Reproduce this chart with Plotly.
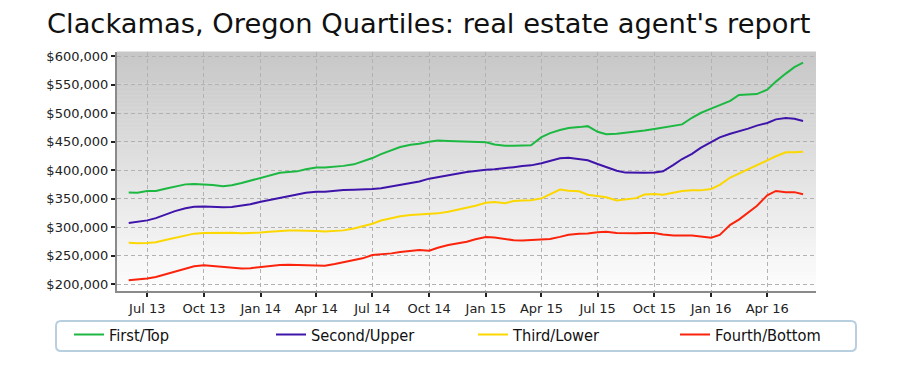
import plotly.graph_objects as go

dates = [
    "2013-06-01", "2013-06-15", "2013-07-01", "2013-07-15", "2013-08-01", "2013-08-15",
    "2013-09-01", "2013-09-15", "2013-10-01", "2013-10-15", "2013-11-01", "2013-11-15",
    "2013-12-01", "2013-12-15", "2014-01-01", "2014-01-15", "2014-02-01", "2014-02-15",
    "2014-03-01", "2014-03-15", "2014-04-01", "2014-04-15", "2014-05-01", "2014-05-15",
    "2014-06-01", "2014-06-15", "2014-07-01", "2014-07-15", "2014-08-01", "2014-08-15",
    "2014-09-01", "2014-09-15", "2014-10-01", "2014-10-15", "2014-11-01", "2014-11-15",
    "2014-12-01", "2014-12-15", "2015-01-01", "2015-01-15", "2015-02-01", "2015-02-15",
    "2015-03-01", "2015-03-15", "2015-04-01", "2015-04-15", "2015-05-01", "2015-05-15",
    "2015-06-01", "2015-06-15", "2015-07-01", "2015-07-15", "2015-08-01", "2015-08-15",
    "2015-09-01", "2015-09-15", "2015-10-01", "2015-10-15", "2015-11-01", "2015-11-15",
    "2015-12-01", "2015-12-15", "2016-01-01", "2016-01-15", "2016-02-01", "2016-02-15",
    "2016-03-01", "2016-03-15", "2016-04-01", "2016-04-15", "2016-05-01", "2016-05-15",
    "2016-05-29",
]

# values in thousands of dollars
first_top = [
    361, 360.5, 363.5, 363.5, 368, 371.8, 375.1, 375.9, 375.3, 374.1, 372, 373.5,
    377.4, 381.7, 387, 391.2, 395.6, 396.6, 397.9, 401.7, 404.5, 404.8, 406, 407.5,
    410.2, 414.8, 421.2, 428.1, 435.3, 440.5, 444.5, 446.2, 449.6, 451.8, 451, 450.5,
    450.6, 450.7, 448.9, 445, 442.6, 442.6, 443.1, 443.7, 457.8, 464.8, 470.3, 473.9,
    475.4, 477.1, 467.2, 463, 463.7, 465.2, 468.3, 469.5, 472.2, 474.7, 477.3, 480.2,
    491.8, 500.1, 507.9, 514.6, 521.4, 531.8, 532.9, 533.3, 541.1, 555.1, 569.2, 580.4,
    588.2,
]
second_upper = [
    307.4, 309.2, 312, 315.9, 322.4, 328.2, 333.3, 336, 336.5, 335.4, 334.9, 335.3,
    337.3, 340.2, 344.8, 348.1, 351.8, 355.1, 357.5, 360.3, 362.3, 362.3, 364.2, 365.4,
    365.8, 365.8, 366.8, 368.4, 371.6, 374.2, 377.4, 380.3, 385.1, 388.2, 391.3, 393.8,
    396.7, 399.1, 400.7, 401.5, 403.1, 405.2, 407.2, 408.4, 412.2, 416.6, 420.7, 421.6,
    420, 417.4, 410.8, 404.9, 399.1, 395.7, 395.2, 395.3, 395.9, 398.1, 409.3, 419.5,
    428.6, 439.1, 449.3, 457.5, 463.8, 467.5, 472.8, 478, 482.6, 489, 491.2, 490.1,
    486.2,
]
third_lower = [
    272.9, 272, 272.4, 273.8, 278.1, 281.5, 285.5, 288.8, 289.7, 290.1, 290.4, 290.2,
    289.5, 289.6, 290.6, 292.1, 293.5, 294.5, 294.4, 294.5, 293.4, 292.5, 293.2, 294.5,
    297.8, 301.7, 306.2, 311.9, 316.5, 319.3, 321.3, 321.9, 322.5, 324.3, 327.1, 330.5,
    333.6, 337.8, 342.8, 344, 341.9, 346, 346.8, 347.2, 350.6, 357.3, 365.9, 364,
    363, 357, 355.1, 352.5, 346.9, 348.5, 351, 357.3, 358.4, 356.8, 360.8, 363.4,
    364.6, 364.6, 367, 374.1, 387.1, 394, 400.7, 408.7, 417.2, 424.4, 431.2, 431.3,
    432.3,
]
fourth_bottom = [
    207, 208.4, 210.4, 212.9, 218.4, 222.7, 227.8, 231.6, 233.2, 232, 230.3, 228.8,
    227.5, 228.2, 230.2, 232.5, 233.9, 234.4, 234.1, 233.8, 233.1, 232.6, 235.6, 239,
    242.7, 245.5, 251.4, 252.2, 254.2, 256.6, 258.2, 260.2, 258.9, 264.1, 268.9, 271.5,
    274.7, 278.9, 282.8, 282.2, 279.4, 277.3, 276.6, 277.2, 278.2, 279.4, 283.1, 286.7,
    288.4, 288.9, 291.1, 292.2, 290.1, 289.6, 289.5, 290.1, 289.9, 287.1, 285.5, 285.6,
    285.5, 283.6, 281.7, 286.6, 304.2, 313.4, 325.3, 337.3, 355.9, 363.6, 361.3, 361.5,
    357.8,
]

series_names = ["First/Top", "Second/Upper", "Third/Lower", "Fourth/Bottom"]
series_values = [first_top, second_upper, third_lower, fourth_bottom]
series_colors = ["#1cb842", "#3f14aa", "#fcd700", "#fb230b"]

title_text = "Clackamas, Oregon Quartiles: real estate agent's report"
FONT = "DejaVu Sans"

fig = go.Figure()
for name, vals, col in zip(series_names, series_values, series_colors):
    fig.add_trace(go.Scatter(
        x=dates, y=[v * 1000 for v in vals], mode="lines", name=name,
        line=dict(color=col, width=2),
        hovertemplate="%{x|%b %d, %Y}: %{y:$,.0f}<extra>" + name + "</extra>",
    ))

# vertical gradient background of the plot area
n_bands = 60
top_c, bot_c = 199, 253
shapes = []
for i in range(n_bands):
    t = i / (n_bands - 1)
    c = round(bot_c + (top_c - bot_c) * t)
    shapes.append(dict(
        type="rect", xref="x domain", yref="y domain",
        x0=0, x1=1, y0=i / n_bands, y1=(i + 1) / n_bands + 0.002,
        fillcolor=f"rgb({c},{c},{c})", line=dict(width=0), layer="below",
    ))

# rounded legend frame (paper coordinates)
W, H = 699.0, 239.0
lx0, lx1 = (56 - 117) / W, (856 - 117) / W
ly0, ly1 = (291 - 351) / H, (291 - 321) / H
rx, ry = 5 / W, 5 / H
path = (f"M {lx0+rx},{ly0} L {lx1-rx},{ly0} Q {lx1},{ly0} {lx1},{ly0+ry} "
        f"L {lx1},{ly1-ry} Q {lx1},{ly1} {lx1-rx},{ly1} L {lx0+rx},{ly1} "
        f"Q {lx0},{ly1} {lx0},{ly1-ry} L {lx0},{ly0+ry} Q {lx0},{ly0} {lx0+rx},{ly0} Z")
shapes.append(dict(type="path", xref="paper", yref="paper", path=path,
                   line=dict(color="#b8cfe0", width=2), fillcolor="white", layer="below"))

fig.update_layout(
    width=900, height=389,
    margin=dict(l=117, r=84, t=52, b=98, autoexpand=False),
    paper_bgcolor="white",
    plot_bgcolor="rgba(0,0,0,0)",
    font=dict(family=FONT, size=13, color="#222222"),
    title=dict(text=title_text, x=47 / 900, xref="container", xanchor="left",
               y=1 - 23 / 389, yref="container", yanchor="middle",
               font=dict(family=FONT, size=27.3, color="#111111")),
    shapes=shapes,
    showlegend=True,
    legend=dict(orientation="h", x=(69 - 117) / W, xanchor="left",
                y=(291 - 335) / H, yanchor="middle",
                entrywidth=157, entrywidthmode="pixels",
                font=dict(family="DejaVu Sans Condensed", size=16.3, color="#111111"),
                bgcolor="rgba(0,0,0,0)", borderwidth=0),
    hovermode="closest",
)

fig.update_xaxes(
    type="date", range=["2013-05-13", "2016-06-19"],
    tick0="2013-07-01", dtick="M3", tickformat="%b %y",
    showgrid=True, gridcolor="#b2b2b2", griddash="4px,3px", gridwidth=1,
    showline=True, linecolor="#8a8a8a", linewidth=2,
    ticks="outside", ticklen=4, tickcolor="#222222", tickwidth=1.5,
    zeroline=False, fixedrange=True,
)
fig.update_yaxes(
    range=[188300, 607000], tick0=0, dtick=50000, tickformat="$,.0f",
    showgrid=True, gridcolor="#b2b2b2", griddash="4px,3px", gridwidth=1,
    showline=True, linecolor="#8a8a8a", linewidth=2,
    ticks="outside", ticklen=4, tickcolor="#222222", tickwidth=1.5,
    zeroline=False, fixedrange=True,
)

fig.write_html("out.html", config={"displayModeBar": False},
               post_script="document.body.style.margin='0px';")
